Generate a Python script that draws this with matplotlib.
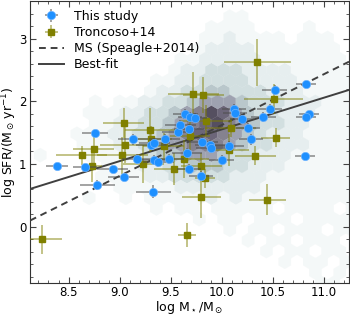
import numpy as np
import matplotlib
matplotlib.use('Agg')
import matplotlib.pyplot as plt
from matplotlib.colors import ListedColormap, BoundaryNorm
from matplotlib.ticker import MultipleLocator

# "This study" points
ts_mass = [8.385, 8.66, 8.76, 8.78, 8.93, 9.04, 9.13, 9.17, 9.31, 9.34, 9.33, 9.335, 9.38, 9.44,
           9.48, 9.57, 9.595, 9.645, 9.69, 9.74, 9.68, 9.66, 9.68, 9.80, 9.81, 9.89, 9.90, 10.0,
           10.07, 10.12, 10.13, 10.2, 10.26, 10.29, 10.41, 10.47, 10.52, 10.83, 10.86, 10.83, 10.82]
ts_sfr = [0.97, 0.95, 1.49, 0.665, 0.915, 0.79, 1.39, 1.08, 1.30, 1.34, 0.56, 1.07, 1.03, 1.39,
          1.08, 1.51, 1.62, 1.79, 1.75, 1.74, 1.56, 1.17, 0.92, 0.80, 1.35, 1.30, 1.25, 1.06,
          1.29, 1.88, 1.82, 1.71, 1.57, 1.39, 1.75, 1.87, 2.18, 2.28, 1.80, 1.75, 1.12]
ts_xerr = [0.11, 0.12, 0.13, 0.17, 0.15, 0.15, 0.15, 0.15, 0.15, 0.15, 0.17, 0.15, 0.15, 0.15,
           0.15, 0.15, 0.15, 0.12, 0.12, 0.12, 0.15, 0.15, 0.12, 0.12, 0.15, 0.15, 0.15, 0.12,
           0.15, 0.12, 0.12, 0.12, 0.12, 0.12, 0.12, 0.12, 0.12, 0.10, 0.10, 0.10, 0.10]
ts_yerr = [0.05, 0.05, 0.05, 0.08, 0.05, 0.05, 0.08, 0.08, 0.08, 0.08, 0.1, 0.08, 0.08, 0.08,
           0.08, 0.08, 0.08, 0.08, 0.08, 0.08, 0.08, 0.08, 0.08, 0.08, 0.08, 0.08, 0.08, 0.08,
           0.08, 0.08, 0.08, 0.08, 0.08, 0.08, 0.08, 0.08, 0.08, 0.05, 0.05, 0.05, 0.05]

# Troncoso+14
tr_mass = [8.24, 8.63, 8.745, 8.73, 9.025, 9.04, 9.055, 9.23, 9.30, 9.31, 9.43, 9.53, 9.63, 9.66,
           9.69, 9.72, 9.82, 9.80, 9.84, 9.80, 9.85, 10.07, 10.09, 10.33, 10.35, 10.45, 10.51, 10.53]
tr_sfr = [-0.20, 1.14, 1.235, 0.96, 1.135, 1.655, 1.31, 1.00, 1.545, 1.40, 1.29, 0.92, 1.08, -0.14,
          1.44, 2.12, 2.10, 0.97, 0.77, 0.47, 1.69, 1.22, 1.58, 1.13, 2.62, 0.43, 2.04, 1.42]
tr_xerr = [0.19, 0.25, 0.2, 0.1, 0.25, 0.2, 0.25, 0.2, 0.25, 0.2, 0.2, 0.19, 0.25, 0.09,
           0.2, 0.25, 0.2, 0.2, 0.1, 0.19, 0.25, 0.2, 0.25, 0.2, 0.33, 0.18, 0.29, 0.14]
tr_yerr = [0.23, 0.15, 0.26, 0.25, 0.3, 0.24, 0.3, 0.3, 0.35, 0.2, 0.2, 0.25, 0.3, 0.19,
           0.3, 0.35, 0.28, 0.2, 0.15, 0.33, 0.25, 0.25, 0.15, 0.15, 0.38, 0.25, 0.24, 0.15]

# lines: slope, intercept
ms_line = (0.81, -6.481)
fit_line = (0.505, -3.50)

# background density (hex levels, rows from y=-0.90 upward, step 0.17)
hex_x0, hex_dx = 8.10, 0.12
hex_y0, hex_dy = -0.90, 0.17
hex_rows = [
    "0000000000000000000000001100",
    "000000000000000000000001010",
    "0000000000000000000001011010",
    "000000000000000000010110110",
    "0000000000000000001011011100",
    "000000000000000010110111011",
    "0000000000000010110111011110",
    "000000000010110111110111101",
    "0000010010111112121111111110",
    "000000011111222222211111111",
    "0000001111223333322211111110",
    "000000111223344433222111111",
    "0100011122344555433222111110",
    "000011122345566654332221111",
    "0000111223345677654322211110",
    "000001122334567865433221111",
    "0000011122334568754332221110",
    "000001011223345554333222111",
    "0000000000122334433322211110",
    "000000000011223333222211111",
    "0000000000001223332222111110",
    "000000000000112222211111110",
    "0000000000000012222111111100",
    "000000000000001121111011100",
    "0000000000000001111000010000",
    "000000000000000011000000000",
    "0000000000000000000000000000",
]

hx, hy, hc = [], [], []
for r, row in enumerate(hex_rows):
    off = 0.5 * hex_dx if r % 2 else 0.0
    for i, ch in enumerate(row):
        if ch != '0':
            hx.append(hex_x0 + off + i * hex_dx)
            hy.append(hex_y0 + r * hex_dy)
            hc.append(int(ch))

hex_colors = ['#f4f8f8', '#e6eeef', '#d2dfe0', '#b9c7cb', '#9ea2b0', '#85828f', '#6c6679', '#554f60']
cmap = ListedColormap(hex_colors)
norm = BoundaryNorm(np.arange(0.5, 9.5, 1), cmap.N)

fig = plt.figure(figsize=(3.5, 3.16), dpi=100)
ax = fig.add_axes([30/350, 33/316, 319/350, 282/316])

ny = 14
ax.hexbin(hx, hy, C=hc, gridsize=(27, ny), extent=(hex_x0, hex_x0 + 27*hex_dx, hex_y0, hex_y0 + ny*2*hex_dy),
          reduce_C_function=np.max, cmap=cmap, norm=norm, edgecolors='face', linewidths=0.2, zorder=0)

xl = np.array([8.12, 11.25])
ax.plot(xl, ms_line[0]*xl + ms_line[1], '--', color='#404040', lw=1.4, dashes=(3.5, 2.5), zorder=3,
        label='MS (Speagle+2014)')
ax.plot(xl, fit_line[0]*xl + fit_line[1], '-', color='#404040', lw=1.4, zorder=3, label='Best-fit')

ax.errorbar(tr_mass, tr_sfr, xerr=tr_xerr, yerr=tr_yerr, fmt='s', ms=5, mfc='#808000', mec='#808000',
            ecolor=(0.5, 0.5, 0.0, 0.55), elinewidth=1.2, capsize=0, zorder=4, label='Troncoso+14')
ax.errorbar(ts_mass, ts_sfr, xerr=ts_xerr, yerr=ts_yerr, fmt='o', ms=6, mfc='#1E90FF', mec='#6fb4ff',
            mew=0.5, ecolor=(0.3, 0.3, 0.3, 0.6), elinewidth=1.2, capsize=0, zorder=5, label='This study')

ax.set_xlim(8.12, 11.25)
ax.set_ylim(-0.9, 3.6)
ax.xaxis.set_major_locator(MultipleLocator(0.5))
ax.xaxis.set_minor_locator(MultipleLocator(0.1))
ax.yaxis.set_major_locator(MultipleLocator(1))
ax.yaxis.set_minor_locator(MultipleLocator(0.2))
ax.tick_params(which='both', direction='in', top=True, right=True, labelsize=8.5, color='#444444', pad=2.5)
ax.tick_params(which='major', length=4)
ax.tick_params(which='minor', length=2)
for s in ax.spines.values():
    s.set_color('#333333')

ax.set_xlabel(r'log M$_\star$/M$_\odot$', fontsize=9, labelpad=0)
ax.set_ylabel(r'log SFR/(M$_\odot\,$yr$^{-1}$)', fontsize=9, labelpad=0)

h, l = ax.get_legend_handles_labels()
order = [l.index('This study'), l.index('Troncoso+14'), l.index('MS (Speagle+2014)'), l.index('Best-fit')]
ax.legend([h[i] for i in order], [l[i] for i in order], loc='upper left', frameon=False, fontsize=9,
          handlelength=2.0, borderaxespad=0.3, labelspacing=0.25)

fig.savefig('out.png', dpi=100)
